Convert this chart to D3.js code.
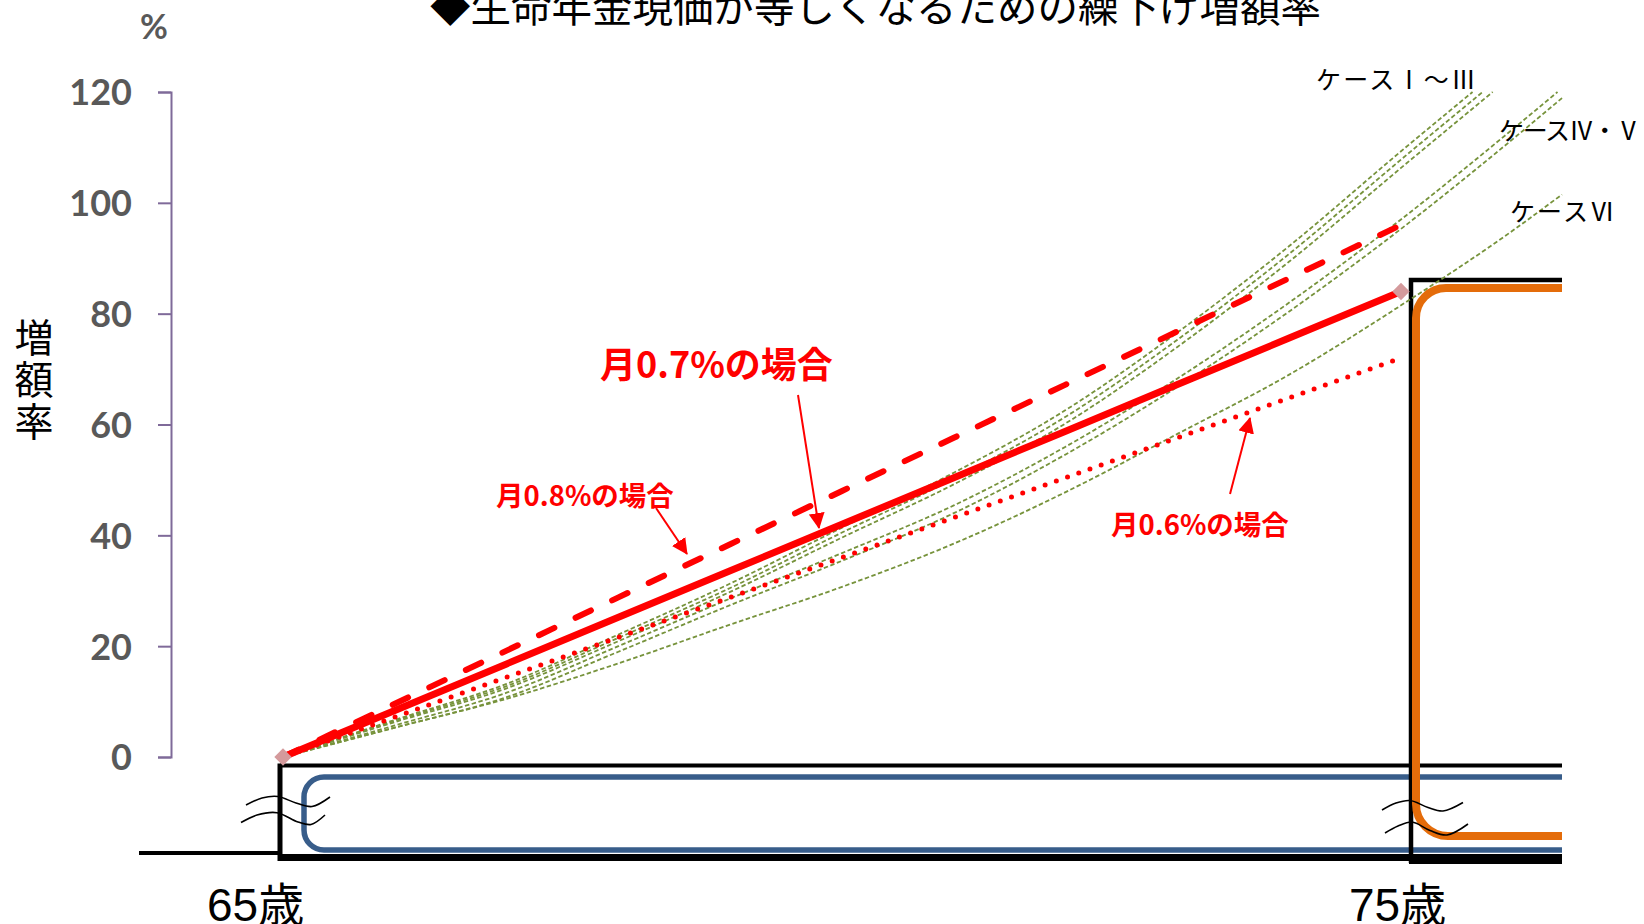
<!DOCTYPE html>
<html><head><meta charset="utf-8">
<script src="https://cdn.jsdelivr.net/npm/d3@7"></script>
<style>
html,body{margin:0;padding:0;background:#fff;}
svg{display:block;}
</style></head>
<body>
<svg id="chart" width="1644" height="924"></svg>
<script>
// ---------- data ----------
const titleText = "◆生命年金現価が等しくなるための繰下げ増額率";
const yAxisTitle = "増額率";
const yUnit = "%";
const yTicks = [0, 20, 40, 60, 80, 100, 120];
const xLabels = ["65歳", "75歳"];

const redAges = [65, 66, 67, 68, 69, 70, 71, 72, 73, 74, 75];
const rate08 = [0, 9.6, 19.2, 28.8, 38.4, 48.0, 57.6, 67.2, 76.8, 86.4, 96.0];
const rate07 = [0, 8.4, 16.8, 25.2, 33.6, 42.0, 50.4, 58.8, 67.2, 75.6, 84.0];
const rate06 = [0, 7.2, 14.4, 21.6, 28.8, 36.0, 43.2, 50.4, 57.6, 64.8, 72.0];
const redLabels = ["月0.8%の場合", "月0.7%の場合", "月0.6%の場合"];

const caseIAges   = [65, 66, 67, 68, 69, 70, 71, 72, 73, 74, 75, 75.64];
const caseIVals   = [0, 6.7, 13.2, 22.1, 31.3, 41.4, 51.3, 62.6, 76.6, 92.2, 109.3, 120];
const caseIIAges  = [65, 66, 67, 68, 69, 70, 71, 72, 73, 74, 75, 75.73];
const caseIIVals  = [0, 6.5, 12.8, 21.5, 30.5, 40.5, 50.2, 61.4, 75.3, 90.8, 107.8, 120];
const caseIIIAges = [65, 66, 67, 68, 69, 70, 71, 72, 73, 74, 75, 75.82];
const caseIIIVals = [0, 6.3, 12.4, 20.9, 29.8, 39.6, 49.2, 60.2, 74.0, 89.4, 106.3, 120];
const caseIVAges  = [65, 66, 67, 68, 69, 70, 71, 72, 73, 74, 75, 76, 76.40];
const caseIVVals  = [0, 5.7, 11.6, 20.0, 28.6, 36.8, 45.4, 56.0, 68.3, 82.0, 97.0, 113.3, 120];
const caseVAges   = [65, 66, 67, 68, 69, 70, 71, 72, 73, 74, 75, 76, 76.44];
const caseVVals   = [0, 5.3, 10.8, 19.0, 27.4, 35.4, 44.0, 54.6, 66.8, 80.4, 95.3, 111.5, 118.9];
const caseVIAges  = [65, 66, 67, 68, 69, 70, 71, 72, 73, 74, 75, 76, 76.44];
const caseVIVals  = [0, 5.3, 10.5, 16.9, 23.9, 30.7, 38.5, 47.8, 58.3, 69.0, 81.5, 95.0, 101.5];
const caseLabels = ["ケースⅠ～Ⅲ", "ケースⅣ・Ⅴ", "ケースⅥ"];

// ---------- layout ----------
const svg = d3.select("#chart");
const x = d3.scaleLinear().domain([65, 75]).range([283, 1401]);
const y = d3.scaleLinear().domain([0, 120]).range([757, 92]);
const plotRight = 1562;
const CJK = "'Noto Sans CJK JP', sans-serif";

const zip = (a, v) => a.map((d, i) => [d, v[i]]);
const lineGen = d3.line().x(d => x(d[0])).y(d => y(d[1])).curve(d3.curveMonotoneX);
const straight = d3.line().x(d => x(d[0])).y(d => y(d[1]));

// title
svg.append("text").attr("x", 430).attr("y", 22)
  .attr("font-family", CJK).attr("font-size", 40.5).attr("fill", "#000")
  .text(titleText);

// y axis
const yAxis = svg.append("g").attr("transform", "translate(171,0)")
  .call(d3.axisLeft(y).tickValues(yTicks).tickSize(13).tickSizeOuter(13).tickPadding(26));
yAxis.select(".domain").attr("stroke", "#7F6A99").attr("stroke-width", 2);
yAxis.selectAll(".tick line").attr("stroke", "#7F6A99").attr("stroke-width", 2);
yAxis.selectAll(".tick text").attr("font-family", "Lato, sans-serif").attr("font-weight", 700)
  .attr("font-size", 36).attr("fill", "#595959").attr("dy", "0.36em");

svg.append("text").attr("x", 154).attr("y", 39).attr("text-anchor", "middle")
  .attr("font-family", "Lato, sans-serif").attr("font-weight", 700).attr("font-size", 34)
  .attr("fill", "#595959").text(yUnit);

svg.append("text").attr("x", 34).attr("y", 318)
  .style("writing-mode", "vertical-rl").attr("letter-spacing", 3)
  .attr("font-family", CJK).attr("font-size", 39).attr("fill", "#000").text(yAxisTitle);

// ---------- frame decorations ----------
const deco = svg.append("g").attr("fill", "none").attr("stroke-linecap", "butt");
const X65 = x(65), X75 = x(75), Y0 = y(0);
// blue rounded band
deco.append("path")
  .attr("d", `M${plotRight},${Y0 + 20} H${X65 + 41} A20,20 0 0 0 ${X65 + 21},${Y0 + 40} V${Y0 + 73} A20,20 0 0 0 ${X65 + 41},${Y0 + 93} H${plotRight}`)
  .attr("stroke", "#385D8A").attr("stroke-width", 5.5);
// black box lines
deco.append("path").attr("d", `M139,${Y0 + 96} H${X65 - 3}`).attr("stroke", "#000").attr("stroke-width", 4);
deco.append("path").attr("d", `M${X65 - 3},${Y0 + 8.5} H${plotRight}`).attr("stroke", "#000").attr("stroke-width", 4);
deco.append("path").attr("d", `M${X65 - 3},${Y0 + 6.5} V${Y0 + 104}`).attr("stroke", "#000").attr("stroke-width", 5);
deco.append("path").attr("d", `M${X65 - 5},${Y0 + 100.5} H${plotRight}`).attr("stroke", "#000").attr("stroke-width", 7);
deco.append("path").attr("d", `M${X75 + 8},${Y0 + 104} H${plotRight}`).attr("stroke", "#000").attr("stroke-width", 6);
deco.append("path").attr("d", `M${X75 + 10},${Y0 + 106} V${y(84) - 11.5} H${plotRight}`)
  .attr("stroke", "#000").attr("stroke-width", 4.5);
// orange bracket
deco.append("path")
  .attr("d", `M${plotRight},${y(84) - 3.5} H${X75 + 45} A30,30 0 0 0 ${X75 + 15},${y(84) + 26.5} V${Y0 + 47} A32,32 0 0 0 ${X75 + 47},${Y0 + 79} H${plotRight}`)
  .attr("stroke", "#E46C0A").attr("stroke-width", 8);

// break marks
const waveGen = d3.line().curve(d3.curveCatmullRom);
const waves = [
  [[246,805],[262,798],[278,796.5],[296,803],[312,806.5],[330,797]],
  [[241,822.5],[257,815],[277,812.7],[298,822],[311,824.5],[325,815]],
  [[1382,810],[1396,803],[1410,800.5],[1428,807.5],[1443,811],[1463,802.5]],
  [[1385,833],[1398,826],[1412,822],[1430,830.5],[1447,835],[1468,824]]
];
deco.selectAll(".wave").data(waves).join("path").attr("class", "wave")
  .attr("d", d => waveGen(d)).attr("stroke", "#000").attr("stroke-width", 1.6);

// ---------- series ----------
const greens = [
  zip(caseIAges, caseIVals), zip(caseIIAges, caseIIVals), zip(caseIIIAges, caseIIIVals),
  zip(caseIVAges, caseIVVals), zip(caseVAges, caseVVals), zip(caseVIAges, caseVIVals)
];
svg.append("g").selectAll("path").data(greens).join("path")
  .attr("d", lineGen).attr("fill", "none").attr("stroke", "#77933C")
  .attr("stroke-width", 1.8).attr("stroke-dasharray", "4.5,2.5");

svg.append("path").attr("d", straight(zip(redAges, rate06))).attr("fill", "none")
  .attr("stroke", "#FF0000").attr("stroke-width", 5).attr("stroke-linecap", "round")
  .attr("stroke-dasharray", "0,11.9");
svg.append("path").attr("d", straight(zip(redAges, rate08))).attr("fill", "none")
  .attr("stroke", "#FF0000").attr("stroke-width", 6).attr("stroke-linecap", "round")
  .attr("stroke-dasharray", "17,23.5");
svg.append("path").attr("d", straight(zip(redAges, rate07))).attr("fill", "none")
  .attr("stroke", "#FF0000").attr("stroke-width", 7).attr("stroke-linejoin", "round")
  .attr("stroke-linecap", "round");

const ends = [[redAges[0], rate07[0]], [redAges[redAges.length - 1], rate07[rate07.length - 1]]];
svg.append("g").selectAll("path").data(ends).join("path")
  .attr("d", d3.symbol(d3.symbolSquare, 150))
  .attr("transform", d => `translate(${x(d[0])},${y(d[1])}) rotate(45)`)
  .attr("fill", "#D49A9C");

// ---------- annotations ----------
svg.append("defs").append("marker").attr("id", "ah")
  .attr("markerUnits", "userSpaceOnUse").attr("viewBox", "0 -8 16 16")
  .attr("refX", 15).attr("refY", 0).attr("markerWidth", 16).attr("markerHeight", 16)
  .attr("orient", "auto").append("path").attr("d", "M0,-8 L16,0 L0,8 Z").attr("fill", "#FF0000");

const ann = [
  {t: redLabels[0], x: 496, y: 505.5, s: 27.5, a: [656, 508, 687, 554]},
  {t: redLabels[1], x: 600, y: 377.5, s: 36, a: [798, 395, 819, 528]},
  {t: redLabels[2], x: 1111, y: 534.5, s: 27.5, a: [1230, 494, 1250, 418]}
];
svg.append("g").selectAll("text").data(ann).join("text")
  .attr("x", d => d.x).attr("y", d => d.y).attr("font-size", d => d.s)
  .attr("font-family", CJK).attr("font-weight", 700).attr("fill", "#FF0000").text(d => d.t);
svg.append("g").selectAll("line").data(ann).join("line")
  .attr("x1", d => d.a[0]).attr("y1", d => d.a[1]).attr("x2", d => d.a[2]).attr("y2", d => d.a[3])
  .attr("stroke", "#FF0000").attr("stroke-width", 2).attr("marker-end", "url(#ah)");

const caseAnn = [
  {t: caseLabels[0], x: 1316, y: 88.5, w: 160},
  {t: caseLabels[1], x: 1499, y: 139.5, w: 142},
  {t: caseLabels[2], x: 1510, y: 220.5, w: 105}
];
svg.append("g").selectAll("text").data(caseAnn).join("text")
  .attr("x", d => d.x).attr("y", d => d.y).attr("font-size", 25)
  .attr("textLength", d => d.w).attr("lengthAdjust", "spacing")
  .attr("font-family", CJK).attr("fill", "#000").text(d => d.t);

// x labels
svg.append("g").selectAll("text").data(xLabels).join("text")
  .attr("x", (d, i) => i === 0 ? 207 : 1349).attr("y", 921)
  .attr("font-family", "'Liberation Sans', 'Noto Sans CJK JP', sans-serif")
  .attr("font-size", 46).attr("fill", "#000").text(d => d);
</script>
</body></html>
